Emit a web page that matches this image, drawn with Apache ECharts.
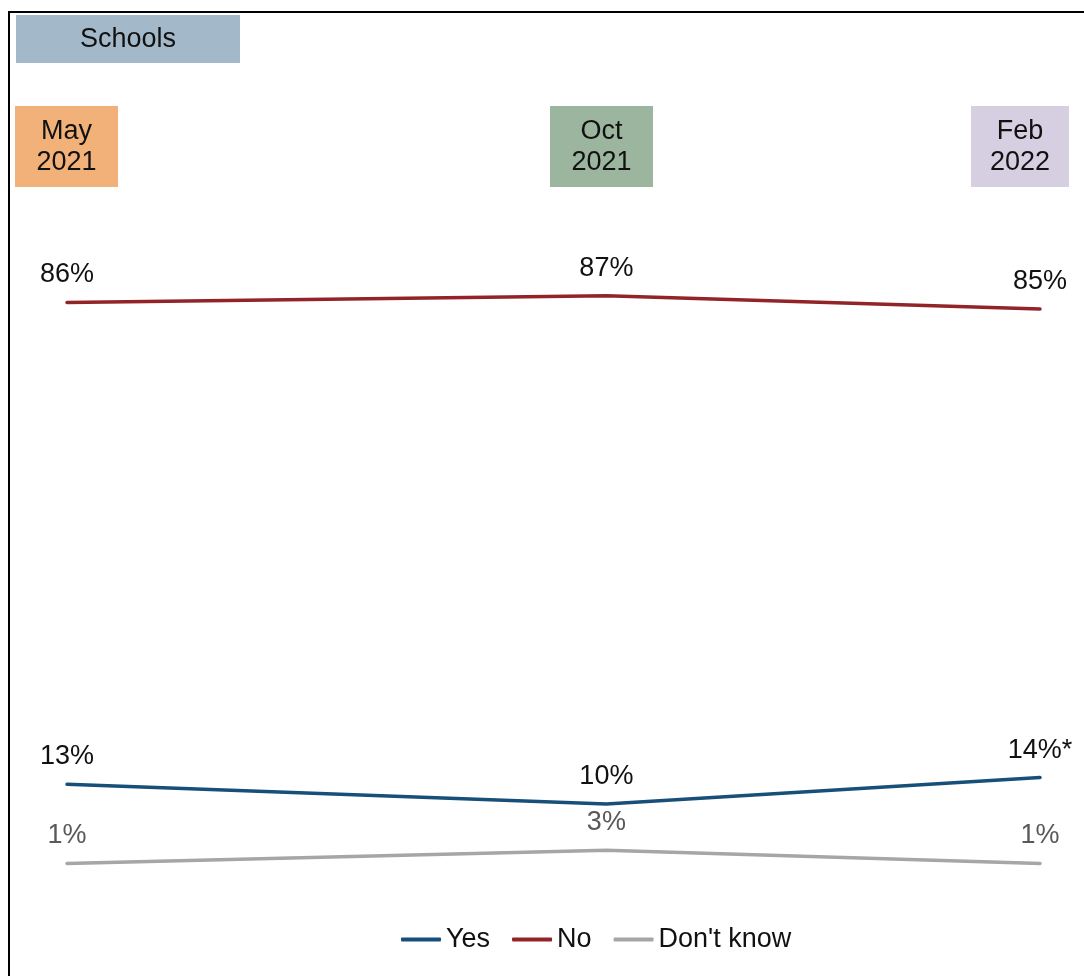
<!DOCTYPE html>
<html>
<head>
<meta charset="utf-8">
<script src="https://cdn.jsdelivr.net/npm/echarts@6/dist/echarts.min.js"></script>
<style>
html,body{margin:0;padding:0;background:#fff;}
#chart{width:1084px;height:976px;}
</style>
</head>
<body>
<div id="chart"></div>
<script>
const panelTitle = 'Schools';
const categories = ['May\n2021', 'Oct\n2021', 'Feb\n2022'];
const surveyDates = ['2021-05-01', '2021-10-01', '2022-02-01'];
const categoryColors = ['#f2b179', '#9bb59f', '#d6cfe1'];
const yesValues = [13, 10, 14];
const noValues = [86, 87, 85];
const dontKnowValues = [1, 3, 1];
const yesLabels = ['13%', '10%', '14%*'];
const noLabels = ['86%', '87%', '85%'];
const dontKnowLabels = ['1%', '3%', '1%'];

const FONT = '"Liberation Sans", Arial, sans-serif';
const FS = 27;

const chart = echarts.init(document.getElementById('chart'), null, {renderer: 'canvas'});

// header box geometry (x-left, width) per category
const boxes = [[15, 103], [550, 103], [971, 98]];
const graphics = [
  {type: 'rect', shape: {x: 9, y: 12, width: 1300, height: 1200}, style: {fill: 'none', stroke: '#000', lineWidth: 2}, z: 100},
  {type: 'rect', shape: {x: 16, y: 15, width: 224, height: 48}, style: {fill: '#a3b9c9'}},
  {type: 'text', x: 128, y: 40, style: {text: panelTitle, font: FS + 'px ' + FONT, fill: '#111', textAlign: 'center', textVerticalAlign: 'middle'}}
];
categories.forEach((c, i) => {
  const [bx, bw] = boxes[i];
  graphics.push({type: 'rect', shape: {x: bx, y: 106, width: bw, height: 81}, style: {fill: categoryColors[i]}});
  graphics.push({type: 'text', x: bx + bw / 2, y: 147, style: {text: c, font: FS + 'px ' + FONT, lineHeight: 31, fill: '#111', textAlign: 'center', textVerticalAlign: 'middle'}});
});

function mkSeries(name, values, labels, color, labelColor) {
  return {
    name: name,
    type: 'line',
    data: values.map((v, i) => [surveyDates[i], v]),
    symbol: 'circle',
    symbolSize: 0.1,
    showSymbol: true,
    lineStyle: {color: color, width: 3.5, cap: 'round'},
    itemStyle: {color: color},
    label: {
      show: true,
      position: 'top',
      distance: 14,
      formatter: p => labels[p.dataIndex],
      fontFamily: FONT,
      fontSize: FS,
      color: labelColor
    },
    emphasis: {disabled: true},
    animation: false
  };
}

chart.setOption({
  animation: false,
  backgroundColor: '#fff',
  grid: {left: 67, right: 44, top: 210, bottom: 106, containLabel: false},
  xAxis: {
    type: 'time',
    min: surveyDates[0],
    max: surveyDates[surveyDates.length - 1],
    show: false
  },
  yAxis: {
    type: 'value',
    min: 0,
    max: 100,
    show: false,
    splitLine: {show: false}
  },
  legend: {
    bottom: 18,
    left: 396,
    icon: 'roundRect',
    itemWidth: 40,
    itemHeight: 4,
    itemGap: 22,
    textStyle: {fontFamily: FONT, fontSize: 27, color: '#111'},
    data: ['Yes', 'No', "Don't know"]
  },
  graphic: graphics,
  series: [
    mkSeries('Yes', yesValues, yesLabels, '#174f78', '#111'),
    mkSeries('No', noValues, noLabels, '#922428', '#111'),
    mkSeries("Don't know", dontKnowValues, dontKnowLabels, '#a6a6a6', '#595959')
  ]
});
</script>
</body>
</html>
